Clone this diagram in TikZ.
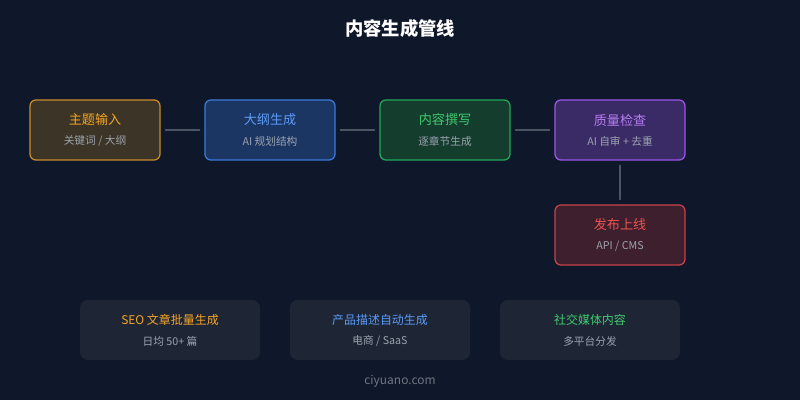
\documentclass[tikz,border=0pt]{standalone}
\usepackage{fontspec}
\setmainfont{Noto Sans CJK SC}
\usepackage{tikz}
\usetikzlibrary{positioning}

\definecolor{bgnavy}{HTML}{0F172A}
\definecolor{linkgray}{HTML}{4B5563}
\definecolor{subgray}{HTML}{9CA3AF}
\definecolor{cardfill}{HTML}{1E2535}
\definecolor{ambline}{HTML}{C98A2A}
\definecolor{ambfill}{HTML}{3C3426}
\definecolor{ambtext}{HTML}{F5A623}
\definecolor{blueline}{HTML}{3B78D8}
\definecolor{bluefill}{HTML}{1C3663}
\definecolor{bluetext}{HTML}{5B9BF8}
\definecolor{grnline}{HTML}{22A85A}
\definecolor{grnfill}{HTML}{143D2E}
\definecolor{grntext}{HTML}{3FCB6E}
\definecolor{purline}{HTML}{9B55E8}
\definecolor{purfill}{HTML}{3A2A66}
\definecolor{purtext}{HTML}{B77BF2}
\definecolor{redline}{HTML}{C8424A}
\definecolor{redfill}{HTML}{3E1F2D}
\definecolor{redtext}{HTML}{EF5350}

\tikzset{
  stagebox/.style={rounded corners=0.15cm, line width=0.9pt, minimum width=3.25cm, minimum height=1.5cm},
  usecard/.style={rounded corners=0.2cm, fill=cardfill, minimum width=4.5cm, minimum height=1.5cm},
  headtext/.style={font=\fontsize{9.3}{11}\selectfont},
  cardtext/.style={font=\fontsize{8.5}{10}\selectfont},
  subtext/.style={font=\fontsize{7.6}{9}\selectfont, text=subgray},
  link/.style={draw=linkgray, line width=1.1pt, shorten <=3.5pt, shorten >=3.5pt}
}

\begin{document}
\begin{tikzpicture}[x=0.025cm, y=-0.025cm, line cap=round, line join=round]
		\fill[bgnavy] (0,0) rectangle (800,400);
		\useasboundingbox (0,0) rectangle (800,400);

		\node[font=\bfseries\fontsize{13}{15}\selectfont, text=white] (title) at (400,29) {内容生成管线};

		% pipeline stages
		\node[stagebox, draw=ambline, fill=ambfill] (topic) at (95,130) {};
		\node[headtext, text=ambtext] at (95,120) {主题输入};
		\node[subtext] at (95,141) {关键词 / 大纲};

		\node[stagebox, draw=blueline, fill=bluefill] (outline) at (270,130) {};
		\node[headtext, text=bluetext] at (270,120) {大纲生成};
		\node[subtext] at (270,141) {AI 规划结构};

		\node[stagebox, draw=grnline, fill=grnfill] (write) at (445,130) {};
		\node[headtext, text=grntext] at (445,120) {内容撰写};
		\node[subtext] at (445,141) {逐章节生成};

		\node[stagebox, draw=purline, fill=purfill] (check) at (620,130) {};
		\node[headtext, text=purtext] at (620,120) {质量检查};
		\node[subtext] at (620,141) {AI 自审 + 去重};

		\node[stagebox, draw=redline, fill=redfill] (publish) at (620,235) {};
		\node[headtext, text=redtext] at (620,225) {发布上线};
		\node[subtext] at (620,246) {API / CMS};

		\draw[link] (topic) -- (outline);
		\draw[link] (outline) -- (write);
		\draw[link] (write) -- (check);
		\draw[link] (check) -- (publish);

		% use cases
		\node[usecard] (seo) at (170,330) {};
		\node[cardtext, text=ambtext] at (170,320) {SEO 文章批量生成};
		\node[subtext] at (170,341) {日均 50+ 篇};

		\node[usecard] (shop) at (380,330) {};
		\node[cardtext, text=bluetext] at (380,320) {产品描述自动生成};
		\node[subtext] at (380,341) {电商 / SaaS};

		\node[usecard] (social) at (590,330) {};
		\node[cardtext, text=grntext] at (590,320) {社交媒体内容};
		\node[subtext] at (590,341) {多平台分发};

		\node[font=\fontsize{8.5}{10}\selectfont, text=linkgray!80!white] (site) at (400,381) {ciyuano.com};
	\end{tikzpicture}
\end{document}
